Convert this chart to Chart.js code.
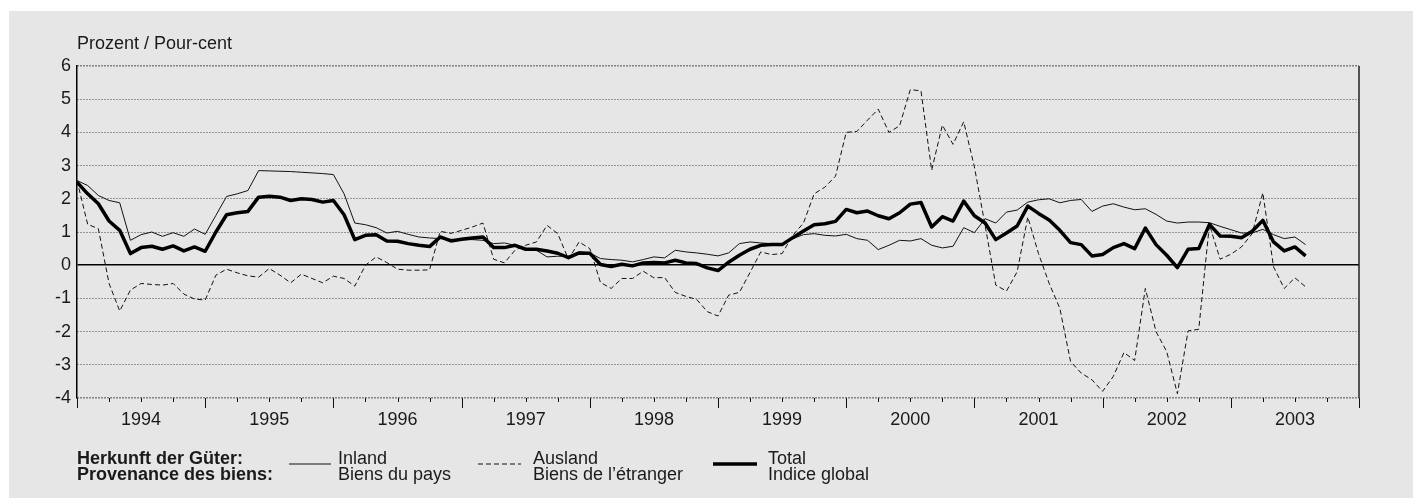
<!DOCTYPE html>
<html><head><meta charset="utf-8">
<script src="https://cdn.jsdelivr.net/npm/chart.js@4.4.1/dist/chart.umd.min.js"></script>
<style>
html,body{margin:0;padding:0;background:#fff;}
body{width:1413px;height:498px;position:relative;overflow:hidden;font-family:'Liberation Sans',Arial,sans-serif;color:#1a1a1a;}
#panel{position:absolute;left:9px;top:11px;right:0;bottom:0;background:#e6e6e6;}
#c{position:absolute;left:0;top:0;}
.t{position:absolute;white-space:nowrap;font-size:18px;line-height:16px;}
svg{position:absolute;}
</style></head>
<body>
<div id="panel"></div>
<canvas id="c" width="1413" height="498"></canvas>
<div class="t" style="left:77px;top:35px;">Prozent / Pour-cent</div>
<div class="t" style="left:77px;top:450px;font-weight:bold;">Herkunft der Güter:<br>Provenance des biens:</div>
<svg style="left:289px;top:460px" width="46" height="8"><line x1="0" y1="4" x2="42" y2="4" stroke="#111" stroke-width="1"/></svg>
<div class="t" style="left:338px;top:450px;">Inland<br>Biens du pays</div>
<svg style="left:478px;top:460px" width="46" height="8"><line x1="0" y1="4" x2="43" y2="4" stroke="#111" stroke-width="1" stroke-dasharray="5,3"/></svg>
<div class="t" style="left:533px;top:450px;">Ausland<br>Biens de l’étranger</div>
<svg style="left:713px;top:460px" width="46" height="8"><line x1="0" y1="4" x2="44" y2="4" stroke="#000" stroke-width="3.5"/></svg>
<div class="t" style="left:768px;top:450px;">Total<br>Indice global</div>
<script>
// Monthly values, index 0 = January 1994
const yearLabels = ['1994','1995','1996','1997','1998','1999','2000','2001','2002','2003'];
const yTickValues = [6,5,4,3,2,1,0,-1,-2,-3,-4];
const inland = [
 2.55,2.4,2.1,1.95,1.88,0.75,0.92,1.0,0.87,0.98,0.87,1.09,
 0.93,1.5,2.07,2.15,2.25,2.85,2.84,2.83,2.82,2.8,2.78,2.76,
 2.73,2.15,1.27,1.22,1.13,0.97,1.02,0.93,0.85,0.82,0.8,0.78,
 0.77,0.77,0.75,0.65,0.67,0.6,0.5,0.45,0.25,0.27,0.27,0.4,
 0.37,0.2,0.17,0.15,0.1,0.17,0.25,0.22,0.45,0.4,0.37,0.33,
 0.28,0.37,0.65,0.7,0.67,0.65,0.65,0.8,0.92,0.95,0.9,0.88,
 0.93,0.8,0.75,0.47,0.6,0.75,0.73,0.8,0.6,0.52,0.57,1.13,
 0.98,1.4,1.27,1.6,1.66,1.9,1.97,2.0,1.88,1.95,1.98,1.62,
 1.78,1.85,1.75,1.67,1.7,1.53,1.33,1.27,1.3,1.3,1.28,1.17,
 1.07,0.97,0.97,1.08,0.92,0.8,0.85,0.62
];
const ausland = [
 2.55,1.23,1.1,-0.55,-1.38,-0.75,-0.55,-0.58,-0.6,-0.55,-0.87,-1.02,
 -1.05,-0.3,-0.12,-0.23,-0.32,-0.36,-0.1,-0.3,-0.53,-0.27,-0.4,-0.53,
 -0.33,-0.4,-0.63,0.0,0.25,0.08,-0.12,-0.15,-0.15,-0.14,1.02,0.96,
 1.05,1.15,1.27,0.18,0.07,0.45,0.6,0.7,1.2,0.95,0.18,0.7,
 0.5,-0.52,-0.7,-0.4,-0.4,-0.18,-0.38,-0.37,-0.82,-0.94,-1.03,-1.4,
 -1.53,-0.9,-0.82,-0.22,0.4,0.32,0.35,0.9,1.27,2.15,2.35,2.68,
 4.0,4.03,4.37,4.7,4.0,4.2,5.29,5.25,2.86,4.22,3.64,4.32,
 2.96,1.2,-0.6,-0.78,-0.2,1.45,0.35,-0.55,-1.3,-2.9,-3.25,-3.45,
 -3.8,-3.35,-2.63,-2.87,-0.7,-2.0,-2.6,-3.87,-1.98,-1.93,1.22,0.18,
 0.33,0.55,0.95,2.18,-0.05,-0.7,-0.38,-0.65
];
const total = [
 2.5,2.15,1.85,1.33,1.05,0.35,0.53,0.57,0.48,0.58,0.43,0.55,
 0.42,1.0,1.52,1.58,1.62,2.05,2.08,2.05,1.95,2.0,1.98,1.9,
 1.95,1.52,0.77,0.9,0.92,0.73,0.72,0.65,0.6,0.56,0.85,0.73,
 0.78,0.82,0.85,0.53,0.53,0.6,0.48,0.48,0.43,0.36,0.23,0.37,
 0.36,0.02,-0.04,0.03,-0.02,0.07,0.08,0.07,0.15,0.07,0.05,-0.08,
 -0.16,0.09,0.3,0.48,0.6,0.62,0.62,0.83,1.03,1.22,1.25,1.32,
 1.68,1.58,1.63,1.49,1.4,1.58,1.84,1.89,1.15,1.46,1.33,1.93,
 1.49,1.27,0.77,0.97,1.18,1.78,1.56,1.36,1.05,0.68,0.62,0.28,
 0.32,0.53,0.65,0.5,1.12,0.62,0.3,-0.07,0.48,0.5,1.23,0.88,
 0.87,0.83,1.02,1.35,0.7,0.43,0.55,0.28
];

const pts = arr => arr.map((v, i) => ({x: i, y: v}));
const FONT = {family: "'Liberation Sans', Arial, sans-serif", size: 18};

const axisTicks = {
  id: 'axisTicks',
  afterDraw(chart) {
    const {ctx, chartArea: a, scales: {x}} = chart;
    ctx.save();
    ctx.strokeStyle = '#111';
    ctx.lineWidth = 1;
    for (let m = 0; m <= 120; m += 3) {
      const px = Math.round(x.getPixelForValue(m)) + 0.5;
      const len = (m % 12 === 0) ? 10 : 4;
      ctx.beginPath();
      ctx.moveTo(px, a.bottom);
      ctx.lineTo(px, a.bottom + len);
      ctx.stroke();
    }
    ctx.lineWidth = 1.5;
    ctx.strokeStyle = '#222';
    ctx.beginPath();
    ctx.moveTo(a.right, a.top);
    ctx.lineTo(a.right, a.bottom);
    ctx.stroke();
    ctx.restore();
  }
};

new Chart(document.getElementById('c'), {
  type: 'line',
  data: {
    datasets: [
      {label: 'Total', data: pts(total), borderColor: '#000', borderWidth: 3.5, pointRadius: 0, tension: 0, borderJoinStyle: 'round', order: 0},
      {label: 'Inland', data: pts(inland), borderColor: '#111', borderWidth: 1, pointRadius: 0, tension: 0, order: 1},
      {label: 'Ausland', data: pts(ausland), borderColor: '#111', borderWidth: 1, borderDash: [5, 3], pointRadius: 0, tension: 0, order: 2}
    ]
  },
  options: {
    responsive: false,
    animation: false,
    layout: {padding: {left: 0, right: 54, top: 66, bottom: 0}},
    plugins: {legend: {display: false}, tooltip: {enabled: false}},
    scales: {
      x: {
        type: 'linear', min: 0, max: 120,
        afterBuildTicks: s => { s.ticks = yearLabels.map((y, i) => ({value: 6 + 12 * i})); },
        afterFit: s => { s.height = 100; },
        ticks: {
          autoSkip: false, maxRotation: 0, padding: 11, color: '#1a1a1a', font: FONT,
          callback: v => yearLabels[Math.round((v - 6) / 12)]
        },
        grid: {display: false, drawTicks: false},
        border: {display: false}
      },
      y: {
        min: -4, max: 6,
        afterBuildTicks: s => { s.ticks = yTickValues.map(v => ({value: v})); },
        afterFit: s => { s.width = 77; },
        ticks: {padding: 6, color: '#1a1a1a', font: FONT},
        grid: {
          drawTicks: false,
          color: c => (c.tick && c.tick.value === 0) ? '#000' : ((c.tick && (c.tick.value === 6 || c.tick.value === -4)) ? '#222' : '#444'),
          lineWidth: c => (c.tick && c.tick.value === 0) ? 1.5 : ((c.tick && (c.tick.value === 6 || c.tick.value === -4)) ? 1.5 : 1)
        },
        border: {
          display: true, color: '#000', width: 1.5,
          dash: c => (c.type === 'tick' && c.tick && c.tick.value !== 0) ? [1, 2] : []
        }
      }
    }
  },
  plugins: [axisTicks]
});
</script>
</body></html>
